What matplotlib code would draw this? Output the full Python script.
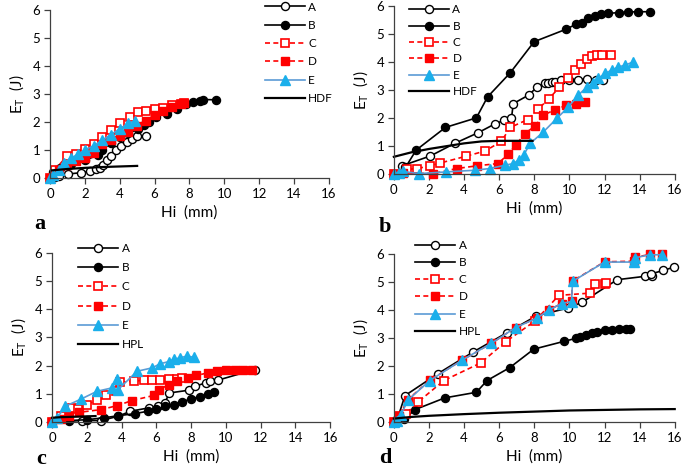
import numpy as np
import matplotlib
matplotlib.use("Agg")
import matplotlib.pyplot as plt

# ---- panel a (HDF) ----
a_A_x = [0, 0.3, 0.5, 1.05, 1.8, 2.3, 2.65, 2.85, 3.05, 3.25, 3.5, 3.8, 4.1, 4.4, 4.7, 5.0, 5.5]
a_A_y = [0, 0.05, 0.08, 0.14, 0.19, 0.24, 0.33, 0.37, 0.45, 0.63, 0.8, 1.0, 1.13, 1.29, 1.4, 1.49, 1.5]
a_B_x = [0, 0.2, 0.6, 1.2, 2.0, 2.77, 3.0, 3.5, 4.0, 4.5, 5.07, 5.4, 5.7, 6.1, 6.7, 7.3, 7.8, 8.2, 8.6, 8.8, 9.55]
a_B_y = [0, 0.2, 0.35, 0.5, 0.63, 0.82, 1.0, 1.25, 1.45, 1.6, 1.74, 1.88, 2.0, 2.19, 2.3, 2.45, 2.64, 2.7, 2.76, 2.8, 2.79]
a_C_x = [0, 0.3, 0.96, 1.5, 2.0, 2.5, 3.0, 3.5, 4.0, 4.6, 5.07, 5.5, 6.0, 6.5, 7.0, 7.5, 7.7]
a_C_y = [0, 0.3, 0.78, 0.85, 1.05, 1.2, 1.45, 1.7, 1.95, 2.19, 2.35, 2.4, 2.45, 2.5, 2.6, 2.65, 2.67]
a_D_x = [0, 0.5, 1.0, 1.5, 2.0, 2.5, 3.0, 3.5, 4.0, 4.5, 5.0, 5.5, 6.0, 6.5, 7.0, 7.5, 7.7]
a_D_y = [0, 0.3, 0.45, 0.6, 0.7, 0.9, 1.2, 1.35, 1.5, 1.65, 1.85, 2.05, 2.25, 2.4, 2.55, 2.65, 2.68]
a_E_x = [0, 0.2, 0.5, 0.8, 1.2, 1.6, 2.0, 2.5, 3.0, 3.5, 4.0, 4.5, 4.9]
a_E_y = [0, 0.1, 0.3, 0.55, 0.7, 0.85, 1.0, 1.15, 1.35, 1.55, 1.75, 1.95, 2.05]
a_H_x = [0.1, 1, 2, 3, 4, 5]
a_H_y = [0.27, 0.32, 0.36, 0.39, 0.41, 0.43]

# ---- panel b (HDF) ----
b_A_x = [0.47, 2.08, 3.47, 4.8, 5.74, 6.3, 6.7, 6.8, 7.67, 8.14, 8.6, 8.8, 9.0, 9.2, 9.5, 10.0, 10.5, 11.0, 11.5, 11.9]
b_A_y = [0.3, 0.65, 1.1, 1.48, 1.79, 1.93, 1.99, 2.52, 2.82, 3.1, 3.24, 3.25, 3.28, 3.3, 3.35, 3.38, 3.38, 3.4, 3.38, 3.38]
b_B_x = [0.66, 1.27, 2.94, 4.7, 5.34, 6.63, 7.99, 9.79, 10.4, 10.7, 11.08, 11.46, 11.8, 12.2, 12.8, 13.35, 13.9, 14.6]
b_B_y = [0.24, 0.86, 1.67, 2.01, 2.76, 3.62, 4.73, 5.17, 5.36, 5.38, 5.56, 5.64, 5.71, 5.74, 5.77, 5.79, 5.8, 5.8]
b_C_x = [0, 0.76, 1.33, 2.08, 2.65, 4.11, 5.21, 6.12, 6.63, 7.63, 8.2, 8.84, 9.43, 9.9, 10.3, 10.66, 10.98, 11.27, 11.55, 11.84, 12.37]
b_C_y = [0, 0.17, 0.2, 0.3, 0.4, 0.64, 0.83, 1.17, 1.67, 1.95, 2.31, 2.7, 3.1, 3.45, 3.73, 3.95, 4.12, 4.21, 4.24, 4.25, 4.25]
b_D_x = [0, 0.5, 2.24, 3.57, 4.75, 5.94, 6.5, 6.95, 7.46, 8.05, 8.5, 9.17, 9.83, 10.4, 10.88]
b_D_y = [0, 0.05, 0.02, 0.2, 0.3, 0.38, 0.71, 1.04, 1.45, 1.72, 2.1, 2.3, 2.46, 2.52, 2.58]
b_E_x = [0, 0.3, 0.5, 1.42, 2.97, 4.6, 5.45, 6.34, 6.8, 7.1, 7.39, 7.77, 8.52, 9.28, 9.94, 10.5, 10.98, 11.36, 11.65, 12.03, 12.4, 12.78, 13.16, 13.64]
b_E_y = [0, 0.05, 0.1, 0.02, 0.08, 0.14, 0.2, 0.32, 0.38, 0.5, 0.68, 1.1, 1.51, 1.99, 2.4, 2.82, 3.1, 3.24, 3.42, 3.6, 3.71, 3.83, 3.89, 4.01]
b_H_x = [0, 1, 2, 3, 4, 5, 6, 7, 7.9]
b_H_y = [0.62, 0.78, 0.9, 1.0, 1.1, 1.17, 1.19, 1.19, 1.19]

# ---- panel c (HPL) ----
c_A_x = [0, 1.7, 2.8, 3.8, 4.5, 5.56, 6.1, 6.5, 6.74, 7.9, 8.24, 8.85, 9.1, 9.52, 11.65]
c_A_y = [0, 0.05, 0.05, 0.2, 0.38, 0.5, 0.55, 0.68, 1.03, 1.13, 1.27, 1.39, 1.45, 1.48, 1.86]
c_B_x = [0, 1.0, 2.0, 3.0, 3.8, 4.8, 5.5, 6.0, 6.5, 7.0, 7.5, 8.0, 8.5, 9.0, 9.3]
c_B_y = [0, 0.05, 0.08, 0.15, 0.22, 0.3, 0.38, 0.45, 0.55, 0.62, 0.72, 0.82, 0.9, 0.98, 1.05]
c_C_x = [0, 0.5, 1.15, 1.5, 2.0, 2.58, 3.12, 3.7, 3.93, 4.69, 5.27, 5.75, 6.23, 6.7, 7.18, 7.5]
c_C_y = [0, 0.2, 0.5, 0.45, 0.62, 0.77, 0.95, 1.09, 1.41, 1.45, 1.48, 1.5, 1.5, 1.53, 1.53, 1.55]
c_D_x = [0, 0.5, 1.0, 1.53, 2.83, 3.74, 4.6, 5.84, 6.13, 6.7, 7.18, 7.8, 8.3, 9.0, 9.5, 10.0, 10.5, 11.0, 11.5]
c_D_y = [0, 0.1, 0.2, 0.34, 0.44, 0.58, 0.76, 0.94, 1.15, 1.31, 1.44, 1.55, 1.65, 1.75, 1.8, 1.83, 1.85, 1.86, 1.86]
c_E_x = [0, 0.3, 0.77, 1.69, 2.59, 3.45, 3.74, 3.8, 4.89, 5.75, 6.23, 6.7, 6.99, 7.38, 7.76, 8.14]
c_E_y = [0, 0.15, 0.56, 0.82, 1.09, 1.21, 1.53, 1.15, 1.8, 1.92, 2.07, 2.14, 2.22, 2.28, 2.34, 2.3]
c_H_x = [0, 0.5, 1.0, 1.5, 2.0, 2.5]
c_H_y = [0.15, 0.17, 0.18, 0.19, 0.2, 0.21]

# ---- panel d (HPL) ----
d_A_x = [0, 0.2, 0.63, 2.52, 4.52, 6.45, 8.12, 9.93, 10.74, 12.72, 14.3, 14.7, 14.67, 15.34, 15.96]
d_A_y = [0, 0.1, 0.94, 1.73, 2.5, 3.19, 3.79, 4.07, 4.28, 5.08, 5.2, 5.2, 5.29, 5.41, 5.53]
d_B_x = [0, 0.6, 1.2, 2.9, 4.7, 5.31, 6.6, 7.97, 9.7, 10.4, 10.6, 10.97, 11.3, 11.6, 12.0, 12.4, 12.8, 13.2, 13.44]
d_B_y = [0, 0.1, 0.44, 0.86, 1.06, 1.48, 1.94, 2.6, 2.88, 2.99, 3.03, 3.11, 3.17, 3.22, 3.27, 3.3, 3.32, 3.33, 3.32]
d_C_x = [0, 0.3, 0.7, 1.39, 2.85, 4.95, 6.38, 8.03, 9.4, 11.15, 11.45, 12.0, 12.11]
d_C_y = [0, 0.2, 0.3, 0.72, 1.48, 2.11, 2.87, 3.6, 4.52, 4.6, 4.92, 4.93, 4.95]
d_D_x = [0, 0.3, 0.8, 2.05, 3.89, 5.56, 6.93, 8.15, 8.85, 9.55, 10.12, 10.18, 12.0, 13.7, 13.72, 14.58, 15.25]
d_D_y = [0, 0.2, 0.8, 1.49, 2.21, 2.81, 3.37, 3.72, 4.0, 4.23, 4.32, 5.03, 5.72, 5.74, 5.88, 5.98, 5.98]
d_E_x = [0, 0.2, 0.4, 0.8, 2.05, 3.89, 5.56, 6.93, 8.15, 8.85, 9.55, 10.12, 10.18, 12.0, 13.7, 13.72, 14.58, 15.25]
d_E_y = [0, 0.05, 0.25, 0.78, 1.48, 2.21, 2.81, 3.37, 3.71, 4.0, 4.23, 4.3, 5.02, 5.71, 5.71, 5.86, 5.97, 5.97]
d_H_x = [0, 1, 2, 4, 6, 8, 10, 12, 14, 16]
d_H_y = [0.12, 0.18, 0.22, 0.28, 0.33, 0.37, 0.41, 0.43, 0.45, 0.46]

panel_letters = ["a", "b", "c", "d"]
board_names = ["HDF", "HDF", "HPL", "HPL"]

RED = "#FF0000"
BLUE_M = "#1AAFEB"
BLUE_L = "#5B9BD5"

plt.rcParams['font.family'] = ['Lato', 'DejaVu Sans']

fig = plt.figure(figsize=(6.85, 4.72), dpi=100)

# axes rectangles (fig fractions) and legend anchors
rects = [
    [0.073, 0.623, 0.407, 0.356],
    [0.575, 0.631, 0.410, 0.356],
    [0.076, 0.106, 0.406, 0.358],
    [0.575, 0.106, 0.410, 0.356],
]
leg_anchor = [(0.77, 1.05), (0.053, 1.01), (0.094, 1.06), (0.075, 1.085)]
leg_space = [0.62, 0.45, 0.7, 0.53]
letter_pos = [(0.050, 0.514), (0.553, 0.508), (0.053, 0.016), (0.553, 0.020)]

data = [
    (a_A_x, a_A_y, a_B_x, a_B_y, a_C_x, a_C_y, a_D_x, a_D_y, a_E_x, a_E_y, a_H_x, a_H_y),
    (b_A_x, b_A_y, b_B_x, b_B_y, b_C_x, b_C_y, b_D_x, b_D_y, b_E_x, b_E_y, b_H_x, b_H_y),
    (c_A_x, c_A_y, c_B_x, c_B_y, c_C_x, c_C_y, c_D_x, c_D_y, c_E_x, c_E_y, c_H_x, c_H_y),
    (d_A_x, d_A_y, d_B_x, d_B_y, d_C_x, d_C_y, d_D_x, d_D_y, d_E_x, d_E_y, d_H_x, d_H_y),
]

dash = (0, (3, 2))
for i in range(4):
    ax = fig.add_axes(rects[i])
    Ax, Ay, Bx, By, Cx, Cy, Dx, Dy, Ex, Ey, Hx, Hy = data[i]
    ax.plot(Ax, Ay, '-', color='black', lw=1.2, marker='o', ms=5.8,
            mfc='white', mec='black', mew=1.0, label='A', clip_on=False)
    ax.plot(Bx, By, '-', color='black', lw=1.2, marker='o', ms=5.8,
            mfc='black', mec='black', label='B', clip_on=False)
    ax.plot(Cx, Cy, color=RED, ls=dash, lw=1.2, marker='s', ms=5.6,
            mfc='white', mec=RED, mew=1.2, label='C', clip_on=False)
    ax.plot(Dx, Dy, color=RED, ls=dash, lw=1.2, marker='s', ms=5.6,
            mfc=RED, mec=RED, label='D', clip_on=False)
    ax.plot(Ex, Ey, '-', color=BLUE_L, lw=1.2, marker='^', ms=6.6,
            mfc=BLUE_M, mec=BLUE_M, label='E', clip_on=False)
    ax.plot(Hx, Hy, '-', color='black', lw=1.6, label=board_names[i], clip_on=False)

    ax.set_xlim(0, 16)
    ax.set_ylim(0, 6)
    ax.set_xticks(np.arange(0, 17, 2))
    ax.set_yticks(np.arange(0, 7, 1))
    for s in ['top', 'right']:
        ax.spines[s].set_visible(False)
    for s in ['left', 'bottom']:
        ax.spines[s].set_color('#404040')
        ax.spines[s].set_linewidth(0.9)
    ax.tick_params(direction='out', length=4, width=0.9, color='#404040',
                   labelsize=9.5, pad=3)
    ax.set_xlabel('Hi  (mm)', fontsize=11, labelpad=4)
    ax.set_ylabel(r'E$_\mathregular{T}$  (J)', fontsize=11, labelpad=4)

    ax.legend(loc='upper left', bbox_to_anchor=leg_anchor[i], frameon=False,
              fontsize=8.5, handlelength=3.4, handletextpad=0.3,
              labelspacing=leg_space[i], borderpad=0, borderaxespad=0)

    fig.text(letter_pos[i][0], letter_pos[i][1], panel_letters[i],
             family='Liberation Serif', fontweight='bold', fontsize=16)

fig.savefig('out.png', dpi=100)
